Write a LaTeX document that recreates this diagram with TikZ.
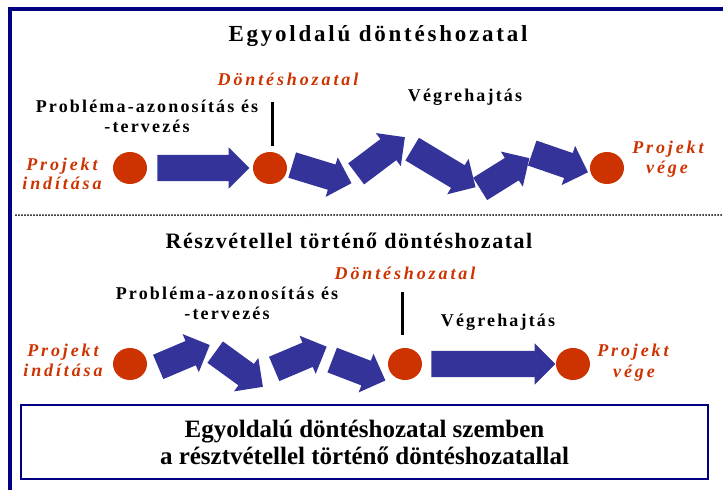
\documentclass[tikz,border=0pt]{standalone}
\usepackage{fontspec}
\setmainfont{Liberation Serif}
\newfontfamily\headfont[LetterSpace=12]{Liberation Serif}
\newfontfamily\headtwofont[LetterSpace=7]{Liberation Serif}
\newfontfamily\redfont[LetterSpace=16]{Liberation Serif}
\usetikzlibrary{shapes.geometric,shapes.arrows}

\definecolor{navy}{HTML}{000080}
\definecolor{rust}{HTML}{CC3300}
\definecolor{indigo}{HTML}{333399}

\tikzset{
  dot/.style={ellipse, fill=rust, minimum width=34, minimum height=32, inner sep=0},
  blockarrow/.style={single arrow, fill=indigo, inner xsep=0, inner ysep=13,
    single arrow head extend=7.5, anchor=tail},
  label/.style={anchor=base, font=\headfont\bfseries\fontsize{18}{21}\selectfont},
  redlabel/.style={anchor=base, text=rust, font=\redfont\bfseries\itshape\fontsize{18}{21}\selectfont}
}

\begin{document}
\begin{tikzpicture}[x=1pt,y=-1pt]
      \useasboundingbox (0,0) rectangle (723,490);
      \draw [navy, line width=4] (9.5,490) -- (9.5,8.5) -- (723,8.5);

      % egyoldalu
      \node [anchor=base, font=\headfont\bfseries\fontsize{23}{27}\selectfont] (title1) at (378,41) {Egyoldalú döntéshozatal};
      \node [redlabel] (dont1) at (288,85) {Döntéshozatal};
      \node [label] (prob1) at (147,112.5) {Probléma-azonosítás és};
      \node [label] (terv1) at (147,132.5) {-tervezés};
      \node [label] (vegr1) at (465,101) {Végrehajtás};
      \node [redlabel] (kezd1a) at (62,170) {Projekt};
      \node [redlabel] (kezd1b) at (62,189) {indítása};
      \node [redlabel] (veg1a) at (668,153) {Projekt};
      \node [redlabel] (veg1b) at (667,173) {vége};
      \node [dot] (k1) at (130,168) {};
      \node [dot] (k2) at (270,168) {};
      \node [dot] (k3) at (607,168) {};
      \node [blockarrow, minimum height=92] (n1) at ([xshift=10]k1.east) {};
      \node [blockarrow, rotate=-17, minimum height=62] (z1) at (292,165) {};
      \node [blockarrow, rotate=37, minimum height=61] (z2) at (356,174) {};
      \node [blockarrow, rotate=-31, minimum height=74] (z3) at (412,149) {};
      \node [blockarrow, rotate=32, minimum height=58] (z4) at (480,189) {};
      \node [blockarrow, rotate=-19, minimum height=59] (z5) at (532,153) {};
      \draw [line width=3] ([xshift=2,yshift=6]k2.north) -- ++(0,-44);

      \draw [line width=2, line cap=round, dash pattern=on 0pt off 3pt] (16,215) -- (723,215);

      % reszvetellel
      \node [anchor=base, font=\headtwofont\bfseries\fontsize{22}{26}\selectfont] (title2) at (349,248) {Részvétellel történő döntéshozatal};
      \node [redlabel] (dont2) at (405,279) {Döntéshozatal};
      \node [label] (prob2) at (227,299) {Probléma-azonosítás és};
      \node [label] (terv2) at (227,319) {-tervezés};
      \node [label] (vegr2) at (498,326) {Végrehajtás};
      \node [redlabel] (kezd2a) at (63,356) {Projekt};
      \node [redlabel] (kezd2b) at (63,376) {indítása};
      \node [redlabel] (veg2a) at (633,356) {Projekt};
      \node [redlabel] (veg2b) at (634,377) {vége};
      \node [dot] (m1) at (130,364) {};
      \node [dot] (m2) at (405,364) {};
      \node [dot] (m3) at (573,364) {};
      \node [blockarrow, rotate=23, minimum height=56] (y1) at (158,367) {};
      \node [blockarrow, rotate=-36, minimum height=59] (y2) at (215,352) {};
      \node [blockarrow, rotate=23, minimum height=57] (y3) at (274,369) {};
      \node [blockarrow, rotate=-21, minimum height=57] (y4) at (332,360) {};
      \node [blockarrow, minimum height=124] (n2) at ([xshift=9]m2.east) {};
      \draw [line width=3] ([xshift=-3,yshift=13]m2.north) -- ++(0,-43);

      \node [draw=navy, line width=2.5, minimum width=687, minimum height=74, inner sep=0, align=center,
             font=\bfseries\fontsize{25}{27}\selectfont] (box) at (364.5,442) {Egyoldalú döntéshozatal szemben\\a résztvétellel történő döntéshozatallal};
\end{tikzpicture}
\end{document}
